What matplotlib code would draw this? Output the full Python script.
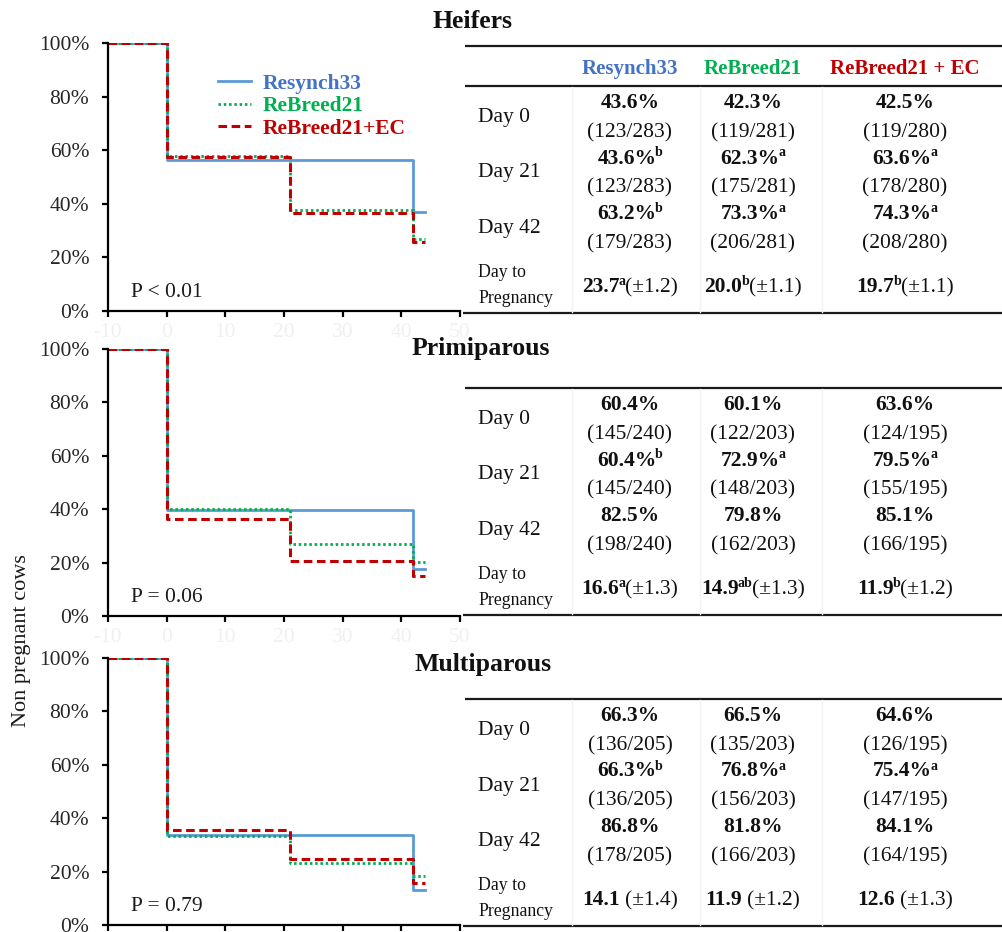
import matplotlib
matplotlib.use("Agg")
import matplotlib.pyplot as plt
from matplotlib.ticker import PercentFormatter, MultipleLocator

plt.rcParams['font.family'] = ['Liberation Serif', 'DejaVu Serif']
plt.rcParams['axes.unicode_minus'] = False

W, H = 1003, 932

groups = ["Heifers", "Primiparous", "Multiparous"]
treatments = ["Resynch33", "ReBreed21", "ReBreed21+EC"]
table_headers = ["Resynch33", "ReBreed21", "ReBreed21 + EC"]
check_days = [0, 21, 42]
row_labels = ["Day 0", "Day 21", "Day 42"]
start_day, last_day = -10, 44
p_values = ["P < 0.01", "P = 0.06", "P = 0.79"]

# cumulative pregnancy (%) at each check, one list per treatment
preg_pct = {
    "Heifers": [[43.6, 43.6, 63.2], [42.3, 62.3, 73.3], [42.5, 63.6, 74.3]],
    "Primiparous": [[60.4, 60.4, 82.5], [60.1, 72.9, 79.8], [63.6, 79.5, 85.1]],
    "Multiparous": [[66.3, 66.3, 86.8], [66.5, 76.8, 81.8], [64.6, 75.4, 84.1]],
}
preg_counts = {
    "Heifers": [["123/283", "123/283", "179/283"],
                ["119/281", "175/281", "206/281"],
                ["119/280", "178/280", "208/280"]],
    "Primiparous": [["145/240", "145/240", "198/240"],
                    ["122/203", "148/203", "162/203"],
                    ["124/195", "155/195", "166/195"]],
    "Multiparous": [["136/205", "136/205", "178/205"],
                    ["135/203", "156/203", "166/203"],
                    ["126/195", "147/195", "164/195"]],
}
pct_letters = {
    "Heifers": [["", "b", "b"], ["", "a", "a"], ["", "a", "a"]],
    "Primiparous": [["", "b", ""], ["", "a", ""], ["", "a", ""]],
    "Multiparous": [["", "b", ""], ["", "a", ""], ["", "a", ""]],
}
# days to pregnancy: mean, SE, letter
days_to_preg = {
    "Heifers": [(23.7, 1.2, "a"), (20.0, 1.1, "b"), (19.7, 1.1, "b")],
    "Primiparous": [(16.6, 1.3, "a"), (14.9, 1.3, "ab"), (11.9, 1.2, "b")],
    "Multiparous": [(14.1, 1.4, ""), (11.9, 1.2, ""), (12.6, 1.3, "")],
}

line_colors = ["#5B9BD5", "#00B050", "#C00000"]
text_colors = ["#4472C4", "#00B050", "#C00000"]
line_styles = [dict(ls="-", lw=2.0),
               dict(ls=(0, (0.9, 1.0)), lw=2.0),
               dict(ls=(0, (2.8, 1.5)), lw=2.2)]

FS = 15.5

fig = plt.figure(figsize=(W / 100, H / 100), dpi=100)


def px_box(left, top, right, bottom):
    return [left / W, 1 - bottom / H, (right - left) / W, (bottom - top) / H]


# (top, bottom) pixel rows of each survival panel
panel_rows = [(43, 311), (349, 616), (658, 925)]
axes = []
for k, g in enumerate(groups):
    top, bottom = panel_rows[k]
    ax = fig.add_axes(px_box(108, top, 460, bottom))
    axes.append(ax)
    for j, name in enumerate(treatments):
        x = [start_day] + check_days + [last_day]
        remaining = [1 - p / 100 for p in preg_pct[g][j]]
        y = [1.0] + remaining + [remaining[-1]]
        ax.plot(x, y, drawstyle="steps-post", color=line_colors[j],
                label=name, **line_styles[j])
    ax.set_xlim(start_day, 50)
    ax.set_ylim(0, 1)
    ax.xaxis.set_major_locator(MultipleLocator(10))
    ax.yaxis.set_major_locator(MultipleLocator(0.2))
    ax.yaxis.set_major_formatter(PercentFormatter(1.0, decimals=0))
    for side in ["top", "right"]:
        ax.spines[side].set_visible(False)
    for side in ["left", "bottom"]:
        ax.spines[side].set_linewidth(1.6)
    ax.tick_params(axis="both", direction="out", length=4.5, width=1.6,
                   labelsize=FS, color="black")
    ax.tick_params(axis="y", pad=9, labelcolor="#262626")
    ax.tick_params(axis="x", pad=4, labelcolor="#f0f0f0")
    ax.patch.set_alpha(0)
    ax.text(0.065, 0.068, p_values[k], transform=ax.transAxes,
            fontsize=FS, va="center", ha="left", color="#1a1a1a")
# the last panel runs to the bottom edge, its day labels fall outside
axes[-1].tick_params(axis="x", labelbottom=False)

leg = axes[0].legend(loc="upper left", bbox_to_anchor=(0.283, 0.926),
                     frameon=False, borderpad=0, handlelength=1.5,
                     handletextpad=0.55, labelspacing=0.12,
                     prop=dict(size=FS, weight="bold"))
for txt, c in zip(leg.get_texts(), text_colors):
    txt.set_color(c)

fig.text(22 / W, 1 - 641 / H, "Non pregnant cows", rotation=90,
         fontsize=16, ha="center", va="center", color="#1a1a1a")

# tables drawn on a pixel-space overlay
ax_t = fig.add_axes([0, 0, 1, 1])
ax_t.set_xlim(0, W)
ax_t.set_ylim(H, 0)
ax_t.axis("off")
renderer = fig.canvas.get_renderer()


def rich_text(xc, yc, pieces, size=FS):
    # pieces: (text, bold, superscript, gap_before)
    arts, widths = [], []
    base = yc + 7
    for s, bold, sup, gap in pieces:
        t = ax_t.text(0, base - 7 if sup else base, s,
                      fontsize=10 if sup else size,
                      fontweight="bold" if bold else "normal",
                      ha="left", va="baseline", color="#111111")
        arts.append(t)
        widths.append(t.get_window_extent(renderer).width + gap)
    x0 = xc - sum(widths) / 2
    for (s, bold, sup, gap), t, w in zip(pieces, arts, widths):
        t.set_x(x0 + gap)
        x0 += w


col_x = [630, 753, 905]
label_x = 478
title_pos = [(473, 22), (481, 348), (483, 665)]
data_rule = [86, 388, 699]


def hrule(y, x0=465):
    ax_t.plot([x0, W], [y, y], color="#1a1a1a", lw=1.6,
              solid_capstyle="butt")


for k, g in enumerate(groups):
    tx, ty = title_pos[k]
    ax_t.text(tx, ty, g, fontsize=18.5, fontweight="bold",
              ha="center", va="center", color="#111111")
    r = data_rule[k]
    if k == 0:
        hrule(46)
        for j, head in enumerate(table_headers):
            ax_t.text(col_x[j], 67 + 7, head, fontsize=15, fontweight="bold",
                      ha="center", va="baseline", color=text_colors[j])
    hrule(r)
    hrule(r + 227, x0=463)
    for xv in [572, 700, 822]:
        ax_t.plot([xv, xv], [r + 1, r + 226], color="#f3f3f3", lw=1)

    for i, lab in enumerate(row_labels):
        yb = r + 15 + 55.5 * i
        ax_t.text(label_x, yb + 14 + 7, lab, fontsize=FS, ha="left",
                  va="baseline", color="#111111")
        for j in range(3):
            pieces = [(f"{preg_pct[g][j][i]:.1f}%", True, False, 0)]
            if pct_letters[g][j][i]:
                pieces.append((pct_letters[g][j][i], True, True, -1.5))
            rich_text(col_x[j], yb, pieces)
            ax_t.text(col_x[j], yb + 29 + 7, f"({preg_counts[g][j][i]})",
                      fontsize=FS, ha="center", va="baseline", color="#111111")

    ax_t.text(label_x, r + 185 + 6, "Day to", fontsize=12.8, ha="left",
              va="baseline", color="#111111")
    ax_t.text(label_x, r + 211 + 6, "Pregnancy", fontsize=12.8, ha="left",
              va="baseline", color="#111111")
    for j, (mean, se, letter) in enumerate(days_to_preg[g]):
        pieces = [(f"{mean:.1f}", True, False, 0)]
        if letter:
            pieces.append((letter, True, True, -0.5))
            pieces.append((f"(±{se:.1f})", False, False, -0.5))
        else:
            pieces.append((f"(±{se:.1f})", False, False, 5))
        rich_text(col_x[j], r + 199, pieces)

fig.savefig("out.png", dpi=100)
